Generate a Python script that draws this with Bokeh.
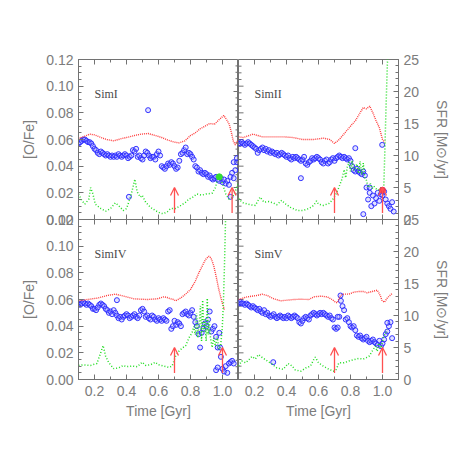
import math
from bokeh.plotting import figure
from bokeh.layouts import row, column
from bokeh.models import (Range1d, LinearAxis, SingleIntervalTicker, PrintfTickFormatter,
                          Arrow, OpenHead, Label)
from bokeh.embed import file_html
from bokeh.resources import INLINE

# ---------------- data ----------------
panel_names = ["SimI", "SimII", "SimIV", "SimV"]

# gas [O/Fe] (red dotted)
red_t = {
    "SimI": [0.10,0.13,0.17,0.20,0.23,0.275,0.32,0.35,0.38,0.42,0.45,0.49,0.535,0.58,0.62,0.66,0.70,0.73,0.765,0.80,0.83,0.86,0.89,0.92,0.95,0.98,1.008,1.025,1.042,1.056,1.067,1.08,1.10],
    "SimII": [0.10,0.13,0.19,0.25,0.32,0.38,0.44,0.50,0.57,0.63,0.67,0.70,0.73,0.765,0.80,0.83,0.86,0.88,0.90,0.92,0.94,0.96,0.98,1.00,1.015],
    "SimIV": [0.10,0.154,0.217,0.279,0.331,0.383,0.446,0.529,0.592,0.633,0.654,0.675,0.696,0.706,0.7375,0.769,0.80,0.831,0.852,0.873,0.894,0.915,0.929,0.946,0.9625,0.977,0.998,1.0125],
    "SimV": [0.10,0.154,0.217,0.248,0.279,0.321,0.3625,0.404,0.446,0.4875,0.54,0.571,0.6125,0.654,0.685,0.706,0.717,0.7375,0.758,0.79,0.821,0.852,0.883,0.904,0.935,0.967,0.977,0.9875,0.998,1.0125,1.029,1.046,1.06],
}
red_v = {
    "SimI": [0.061,0.062,0.064,0.0635,0.062,0.060,0.059,0.060,0.061,0.062,0.063,0.064,0.0645,0.063,0.0615,0.0595,0.058,0.0575,0.059,0.063,0.065,0.068,0.070,0.072,0.0715,0.075,0.078,0.075,0.0715,0.065,0.059,0.056,0.060],
    "SimII": [0.062,0.0615,0.064,0.062,0.062,0.062,0.0615,0.060,0.060,0.061,0.060,0.057,0.060,0.065,0.070,0.074,0.080,0.084,0.083,0.085,0.080,0.074,0.069,0.060,0.058],
    "SimIV": [0.059,0.060,0.061,0.063,0.064,0.0625,0.0605,0.060,0.0605,0.062,0.0615,0.0605,0.060,0.059,0.061,0.064,0.0675,0.074,0.080,0.085,0.090,0.0925,0.091,0.085,0.076,0.0675,0.0575,0.0525],
    "SimV": [0.060,0.062,0.063,0.064,0.063,0.0605,0.059,0.0595,0.060,0.0602,0.060,0.062,0.0625,0.062,0.060,0.058,0.0575,0.063,0.064,0.064,0.0655,0.066,0.066,0.065,0.066,0.067,0.065,0.0625,0.059,0.058,0.061,0.063,0.0645],
}

# stellar [O/Fe] (blue circles), one value per 0.01 Gyr starting at 0.10
blue_v = {
    "SimI": [0.057,0.058,0.059,0.060,0.060,0.059,0.058,0.058,0.057,0.055,
             0.053,0.052,0.050,0.049,0.051,0.050,0.049,0.048,0.049,0.048,
             0.047,0.048,0.047,0.048,0.047,0.049,0.048,0.047,0.048,0.049,
             0.048,0.046,0.047,0.048,0.052,0.051,0.053,0.047,0.048,0.046,
             0.045,0.048,0.051,0.050,0.048,0.046,0.047,0.047,0.045,0.049,
             0.051,0.048,0.040,0.039,0.038,0.040,0.042,0.041,0.043,0.042,
             0.040,0.038,0.039,0.044,0.049,0.050,0.052,0.054,0.049,0.050,
             0.049,0.047,0.045,0.040,0.039,0.036,0.037,0.035,0.034,0.035,
             0.034,0.032,0.033,0.031,0.030,0.031,0.032,0.030,0.029,0.031,
             0.028,0.030,0.027,0.029,0.026,0.032,0.035,0.031,0.037,0.043],
    "SimII": [0.057,0.057,0.058,0.057,0.056,0.057,0.058,0.057,0.056,0.055,
              0.054,0.053,0.050,0.052,0.053,0.054,0.052,0.053,0.051,0.052,
              0.050,0.051,0.050,0.049,0.050,0.048,0.049,0.050,0.049,0.048,
              0.047,0.048,0.046,0.045,0.047,0.046,0.047,0.046,0.045,0.044,
              0.045,0.047,0.042,0.041,0.043,0.044,0.046,0.045,0.046,0.047,
              0.046,0.045,0.043,0.042,0.044,0.045,0.042,0.043,0.045,0.046,
              0.044,0.046,0.047,0.048,0.047,0.046,0.047,0.046,0.045,0.046,
              0.044,0.040,0.037,0.036,0.038,0.036,0.035,0.034,0.036,0.033,
              0.024,0.015,0.020,0.010,0.018,0.012,0.016,0.020,0.014,0.019,
              0.018,0.021,0.015,0.012,0.010,0.008,0.013,0.006],
    "SimIV": [0.057,0.056,0.057,0.058,0.057,0.056,0.057,0.056,0.055,0.053,
              0.053,0.052,0.054,0.056,0.057,0.056,0.055,0.053,0.052,0.050,
              0.051,0.049,0.052,0.050,0.048,0.046,0.047,0.045,0.047,0.048,
              0.049,0.048,0.046,0.047,0.048,0.049,0.047,0.046,0.048,0.052,
              0.053,0.051,0.047,0.048,0.046,0.045,0.048,0.047,0.045,0.044,
              0.046,0.045,0.044,0.046,0.045,0.044,0.051,0.052,0.038,0.040,
              0.044,0.041,0.043,0.042,0.040,0.049,0.050,0.051,0.049,0.048,
              0.050,0.052,0.047,0.043,0.040,0.034,0.024,0.035,0.038,0.042,
              0.040,0.045,0.051,0.036,0.038,0.040,0.032,0.024,0.035,0.017,
              0.008,0.006,0.010,0.005,0.012,0.013,0.014,0.012],
    "SimV": [0.057,0.058,0.057,0.057,0.056,0.057,0.056,0.055,0.054,0.055,
             0.054,0.053,0.052,0.053,0.051,0.050,0.052,0.049,0.050,0.048,
             0.047,0.048,0.049,0.047,0.046,0.047,0.048,0.047,0.046,0.047,
             0.046,0.048,0.047,0.046,0.047,0.048,0.047,0.046,0.043,0.042,
             0.044,0.046,0.047,0.046,0.045,0.048,0.049,0.050,0.049,0.048,
             0.049,0.050,0.049,0.050,0.049,0.048,0.047,0.048,0.046,0.045,
             0.039,0.038,0.039,0.047,0.059,0.055,0.052,0.045,0.046,0.043,
             0.040,0.039,0.040,0.037,0.033,0.032,0.033,0.031,0.030,0.031,
             0.032,0.029,0.028,0.029,0.030,0.028,0.027,0.026,0.029,0.025,
             0.027,0.030,0.034,0.036,0.040,0.043,0.031],
}
blue_start = 0.10
blue_step = 0.01

# isolated stellar points
extra_t = {"SimI": [0.535,0.415,1.05,1.07,1.09], "SimII": [0.49,0.83,0.998,0.88,0.92],
           "SimIV": [0.34,0.96,0.97,0.985], "SimV": [0.317,0.7375,0.72,1.03]}
extra_v = {"SimI": [0.082,0.017,0.017,0.043,0.046], "SimII": [0.031,0.0535,0.056,0.004,0.024],
           "SimIV": [0.0595,0.007,0.009,0.024], "SimV": [0.013,0.063,0.047,0.0425]}

# star formation rate (green dotted, right axis)
sfr_t = {
    "SimI": [0.10,0.12,0.14,0.165,0.175,0.19,0.205,0.24,0.27,0.30,0.33,0.35,0.38,0.40,0.425,0.44,0.452,0.467,0.487,0.498,0.52,0.55,0.58,0.61,0.63,0.655,0.675,0.705,0.74,0.77,0.79,0.81,0.84,0.87,0.90,0.935,0.956,0.967,0.977,1.0,1.02,1.04,1.06,1.08,1.1],
    "SimII": [0.10,0.11,0.13,0.175,0.205,0.235,0.26,0.29,0.32,0.34,0.37,0.39,0.425,0.467,0.50,0.54,0.57,0.588,0.60,0.63,0.665,0.685,0.706,0.727,0.748,0.76,0.77,0.78,0.79,0.80,0.81,0.82,0.83,0.84,0.85,0.86,0.87,0.88,0.89,0.90,0.91,0.925,0.935,0.946,0.96,0.975,0.99,1.00,1.008,1.015,1.022,1.03,1.035],
    "SimIV": [0.10,0.13,0.175,0.215,0.235,0.254,0.27,0.29,0.32,0.35,0.38,0.40,0.435,0.467,0.498,0.52,0.55,0.58,0.60,0.633,0.665,0.685,0.706,0.727,0.748,0.77,0.79,0.81,0.82,0.83,0.838,0.845,0.855,0.862,0.869,0.876,0.884,0.89,0.898,0.905,0.91,0.918,0.925,0.935,0.945,0.956,0.967,0.977,0.988,0.998,1.005,1.012,1.02],
    "SimV": [0.10,0.12,0.145,0.165,0.185,0.205,0.225,0.25,0.28,0.31,0.34,0.38,0.41,0.435,0.455,0.49,0.52,0.55,0.57,0.58,0.60,0.63,0.665,0.695,0.712,0.727,0.76,0.79,0.82,0.85,0.88,0.915,0.935,0.955,0.967,0.977,0.99,1.005,1.02,1.03],
}
sfr_v = {
    "SimI": [4.0,3.0,2.4,3.2,5.0,4.0,2.4,1.7,1.3,1.7,2.6,2.2,1.4,1.7,3.5,5.0,6.3,4.3,3.5,3.8,2.7,1.9,1.4,1.0,0.9,1.2,1.7,1.7,2.2,2.7,3.2,3.4,4.0,3.8,4.0,4.1,5.0,6.1,6.9,5.6,4.0,3.2,3.4,4.4,5.8],
    "SimII": [3.3,3.0,2.6,2.3,2.2,3.5,2.7,2.8,2.55,2.3,3.0,2.5,1.9,1.4,1.4,1.7,2.2,2.9,2.4,2.2,2.5,3.0,3.8,5.0,6.4,7.8,6.5,8.2,9.0,7.5,9.2,7.7,8.0,8.7,7.2,9.1,7.0,8.8,6.5,6.1,5.0,5.6,4.8,5.2,4.8,4.6,5.0,4.3,5.0,11.0,17.5,24.0,27.0],
    "SimIV": [2.2,2.3,2.2,2.5,3.9,5.3,3.6,2.6,1.7,1.8,2.2,2.0,2.1,2.0,2.7,2.2,2.3,2.7,2.3,2.1,1.9,2.1,3.6,4.4,4.9,5.3,6.5,7.3,8.3,7.0,10.4,6.5,8.9,11.5,6.0,12.4,7.5,9.4,6.0,12.7,7.0,9.0,6.5,5.0,6.5,5.2,6.7,4.7,5.2,7.8,11.5,17.5,26.0],
    "SimV": [2.1,2.9,2.6,3.1,3.6,3.2,3.9,3.4,2.9,2.4,1.8,1.6,2.5,2.1,1.5,1.3,1.8,2.1,3.1,3.5,2.6,2.1,1.6,1.3,1.6,2.6,2.6,2.9,3.1,3.3,3.2,3.6,4.4,5.2,4.4,5.7,4.9,6.5,7.3,7.8],
}

# highlighted points
mark_t = {"SimI": [0.98], "SimII": [1.0], "SimIV": [], "SimV": []}
mark_v = {"SimI": [0.032], "SimII": [0.022], "SimIV": [], "SimV": []}
mark_c = {"SimI": "#33dd33", "SimII": "#ee3355", "SimIV": "#ff0000", "SimV": "#ff0000"}

# merger arrows (time, SFR from -> to)
arrow_t = {"SimI": [0.70, 1.06], "SimII": [0.70, 1.00], "SimIV": [0.70, 1.00], "SimV": [0.70, 1.00]}
arrow_from = 1.0
arrow_to = 5.0

x_lim = (0.1, 1.1)
ofe_lim = (0.0, 0.12)
sfr_lim = (0.0, 25.0)

# tick positions for the unlabeled sides of each box
x_major = [0.2, 0.4, 0.6, 0.8, 1.0]
x_minor = [0.1, 0.3, 0.5, 0.7, 0.9, 1.1]
ofe_major = [0.0, 0.02, 0.04, 0.06, 0.08, 0.10, 0.12]
ofe_minor = [0.005 * i for i in range(25) if i % 4]
sfr_major = [0, 5, 10, 15, 20, 25]
sfr_minor = [i for i in range(26) if i % 5]

# ---------------- style ----------------
GREY = "#7c7c7c"
AX = "#727272"
FONT = "Liberation Sans"
B = 10  # overlap band between rows


def style_axis(ax):
    ax.axis_line_color = AX
    ax.major_tick_line_color = AX
    ax.minor_tick_line_color = AX
    ax.major_tick_in = 5
    ax.major_tick_out = 0
    ax.minor_tick_in = 3
    ax.minor_tick_out = 0
    ax.major_label_text_color = GREY
    ax.major_label_text_font = FONT
    ax.major_label_text_font_size = "14px"
    ax.major_label_standoff = 5
    ax.axis_label_text_color = GREY
    ax.axis_label_text_font = FONT
    ax.axis_label_text_font_style = "normal"
    ax.axis_label_text_font_size = "14px"
    return ax


def side_ticks(p, vals, fixed, angle, horiz, length, rng=None):
    kw = dict(length=length, length_units="screen", angle=angle,
              line_color=AX, line_width=1)
    if rng:
        kw["y_range_name"] = rng
    if horiz:
        p.ray(x=[fixed] * len(vals), y=vals, **kw)
    else:
        p.ray(x=vals, y=[fixed] * len(vals), **kw)


def make_panel(name, r, c):
    left = c == 0
    bottom = r == 1
    bl = 78 if left else 0
    br = 0 if left else 59
    bt = 59 if r == 0 else B
    bb = 48 if bottom else B
    p = figure(width=160 + bl + br, height=160 + bt + bb,
               x_range=Range1d(*x_lim), y_range=Range1d(*ofe_lim),
               x_axis_type=None, y_axis_type=None,
               output_backend="svg", toolbar_location=None,
               min_border_left=bl, min_border_right=br,
               min_border_top=bt, min_border_bottom=bb)
    p.extra_y_ranges = {"sfr": Range1d(*sfr_lim)}
    p.outline_line_color = AX
    p.background_fill_color = None
    p.border_fill_color = None

    # top side ticks
    side_ticks(p, x_major, ofe_lim[1], -math.pi / 2, False, 5)
    side_ticks(p, x_minor, ofe_lim[1], -math.pi / 2, False, 3)
    if bottom:
        xb = style_axis(LinearAxis(ticker=SingleIntervalTicker(interval=0.2, num_minor_ticks=2),
                                   formatter=PrintfTickFormatter(format="%.1f")))
        xb.axis_label = "Time [Gyr]"
        xb.axis_label_standoff = 4
        xb.major_label_standoff = 6
        p.add_layout(xb, "below")
    else:
        side_ticks(p, x_major, ofe_lim[0], math.pi / 2, False, 5)
        side_ticks(p, x_minor, ofe_lim[0], math.pi / 2, False, 3)

    if left:
        yl = style_axis(LinearAxis(ticker=SingleIntervalTicker(interval=0.02, num_minor_ticks=4),
                                   formatter=PrintfTickFormatter(format="%.2f")))
        yl.axis_label = "[O/Fe]"
        yl.axis_label_standoff = 6
        p.add_layout(yl, "left")
        side_ticks(p, sfr_major, x_lim[1], math.pi, True, 5, "sfr")
        side_ticks(p, sfr_minor, x_lim[1], math.pi, True, 3, "sfr")
    else:
        yr = style_axis(LinearAxis(y_range_name="sfr",
                                   ticker=SingleIntervalTicker(interval=5, num_minor_ticks=5),
                                   formatter=PrintfTickFormatter(format="%d")))
        yr.axis_label = "SFR [M\u2299/yr]"
        yr.axis_label_standoff = 12
        p.add_layout(yr, "right")
        side_ticks(p, ofe_major, x_lim[0], 0, True, 5)
        side_ticks(p, ofe_minor, x_lim[0], 0, True, 3)

    # data
    bt_ = [round(blue_start + blue_step * i, 3) for i in range(len(blue_v[name]))]
    p.scatter(bt_ + extra_t[name], blue_v[name] + extra_v[name], size=5,
              marker="circle", fill_color="#9c9cff", fill_alpha=0.3,
              line_color="#2a2aff", line_alpha=0.95, line_width=1.0)
    p.line(red_t[name], red_v[name], line_color="#ff3b3b", line_width=1.4, line_dash="1 1")
    p.line(sfr_t[name], sfr_v[name], y_range_name="sfr", line_color="#22dd22",
           line_width=1.5, line_dash="1 2")
    if mark_t[name]:
        p.scatter(mark_t[name], mark_v[name], size=6, marker="circle",
                  fill_color=mark_c[name], line_color=mark_c[name])
    for t in arrow_t[name]:
        p.add_layout(Arrow(x_start=t, y_start=arrow_from, x_end=t, y_end=arrow_to,
                           y_range_name="sfr", line_color="#ff5050", line_width=1.3,
                           end=OpenHead(size=8, line_color="#ff5050", line_width=1.3)))

    p.add_layout(Label(x=0.2, y=0.0945, text=name, text_font="Liberation Serif",
                       text_font_size="12px", text_color="#4a4a4a",
                       text_baseline="alphabetic"))
    return p


top = row(make_panel(panel_names[0], 0, 0), make_panel(panel_names[1], 0, 1))
bot = row(make_panel(panel_names[2], 1, 0), make_panel(panel_names[3], 1, 1),
          margin=(-2 * B, 0, 0, 0))
layout = column(top, bot)

open("out.html", "w").write(file_html(layout, INLINE))
